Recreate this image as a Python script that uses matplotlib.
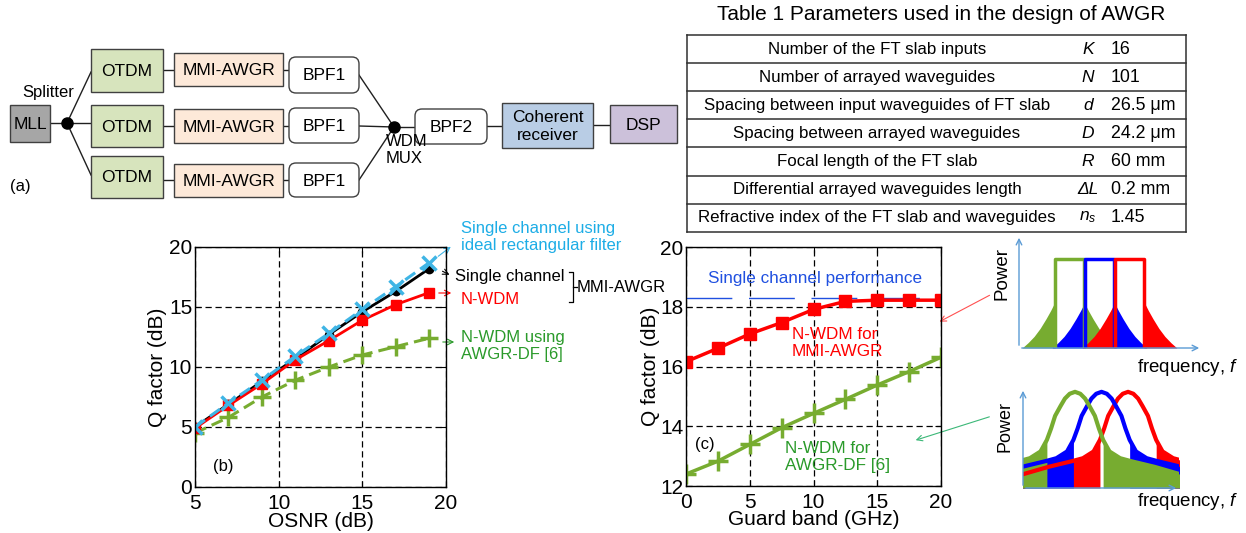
import matplotlib
matplotlib.use("Agg")
from matplotlib import pyplot as plt
from matplotlib.patches import Rectangle, FancyBboxPatch
import numpy as np

plt.rcParams['font.family'] = ['Liberation Sans', 'DejaVu Sans']
plt.rcParams['mathtext.fontset'] = 'custom'
plt.rcParams['mathtext.rm'] = 'Liberation Sans'
plt.rcParams['mathtext.it'] = 'Liberation Sans:italic'

# ---- data (b): Q factor vs OSNR
osnr = [5, 7, 9, 11, 13, 15, 17, 19]
q_single = [5.0, 6.9, 8.8, 10.7, 12.7, 14.6, 16.3, 18.2]
q_ideal = [5.0, 7.0, 8.9, 10.9, 12.8, 14.8, 16.7, 18.7]
q_nwdm = [4.9, 6.8, 8.6, 10.6, 12.2, 13.9, 15.2, 16.2]
q_awgrdf = [4.5, 5.8, 7.5, 8.9, 10.0, 11.0, 11.7, 12.4]

# ---- data (c): Q factor vs guard band
guard = [0, 2.5, 5, 7.5, 10, 12.5, 15, 17.5, 20]
q_gb_mmi = [16.16, 16.61, 17.09, 17.47, 17.91, 18.18, 18.22, 18.22, 18.22]
q_gb_df = [12.40, 12.83, 13.39, 13.95, 14.43, 14.90, 15.38, 15.83, 16.31]
q_single_ref = 18.29

# ---- table 1
params = ["Number of the FT slab inputs", "Number of arrayed waveguides",
          "Spacing between input waveguides of FT slab", "Spacing between arrayed waveguides",
          "Focal length of the FT slab", "Differential arrayed waveguides length",
          "Refractive index of the FT slab and waveguides"]
symbols = ["K", "N", "d", "D", "R", "ΔL", r"$n_s$"]
values = ["16", "101", "26.5 μm", "24.2 μm", "60 mm", "0.2 mm", "1.45"]

# ---- sketch spectra (insets)
chan_pos = [0, 1, 2]
chan_col = ['#77AC30', '#0000FF', '#FF0000']
rect_hw = 0.48
tail_dx = [0, 0.15, 0.3, 0.5, 0.7, 0.9, 1.1]
tail_lv = [0.52, 0.42, 0.33, 0.22, 0.13, 0.06, 0.0]
bell_dx = [-4, -3, -2.1, -1.7, -1.3, -1.06, -0.9, -0.75, -0.55, -0.38, -0.2, 0,
           0.2, 0.38, 0.55, 0.75, 0.9, 1.06, 1.3, 1.7, 2.1, 3, 4]
bell_lv = [0.14, 0.22, 0.28, 0.31, 0.38, 0.5, 0.62, 0.75, 0.85, 0.93, 0.98, 1,
           0.98, 0.93, 0.85, 0.75, 0.62, 0.5, 0.38, 0.31, 0.28, 0.22, 0.14]

W, H = 1246, 533
fig = plt.figure(figsize=(W / 100, H / 100), dpi=100)


def px_axes(x0, y0, x1, y1):
    return fig.add_axes([x0 / W, 1 - y1 / H, (x1 - x0) / W, (y1 - y0) / H])


# overlay in pixel coordinates
ov = fig.add_axes([0, 0, 1, 1])
ov.set_xlim(0, W)
ov.set_ylim(H, 0)
ov.axis('off')

# ---- (a) block diagram
boxes = [  # x0, y0, x1, y1, label, face, rounded
    (10, 105, 50, 142, "MLL", '#A6A6A6', False),
    (91, 49, 163, 92, "OTDM", '#D7E4BD', False),
    (91, 105, 163, 147, "OTDM", '#D7E4BD', False),
    (91, 156, 163, 198, "OTDM", '#D7E4BD', False),
    (174, 53, 283, 86, "MMI-AWGR", '#FDE9D9', False),
    (174, 109, 283, 143, "MMI-AWGR", '#FDE9D9', False),
    (174, 164, 283, 197, "MMI-AWGR", '#FDE9D9', False),
    (289, 57, 359, 93, "BPF1", 'white', True),
    (289, 108, 359, 143, "BPF1", 'white', True),
    (289, 163, 359, 197, "BPF1", 'white', True),
    (415, 109, 487, 144, "BPF2", 'white', True),
    (502, 103, 593, 148, "Coherent\nreceiver", '#B9CDE5', False),
    (610, 105, 677, 143, "DSP", '#CCC1DA', False),
]
for x0, y0, x1, y1, lab, fc, rnd in boxes:
    if rnd:
        p = FancyBboxPatch((x0, y0), x1 - x0, y1 - y0, boxstyle="round,pad=0,rounding_size=7",
                           fc=fc, ec='#404040', lw=1)
    else:
        p = Rectangle((x0, y0), x1 - x0, y1 - y0, fc=fc, ec='#404040', lw=1)
    ov.add_patch(p)
    ov.text((x0 + x1) / 2, (y0 + y1) / 2 + 1, lab, ha='center', va='center', fontsize=12.5,
            linespacing=1.25)

conn = [((50, 123), (67, 123)), ((67, 123), (91, 72)), ((67, 123), (91, 123)), ((67, 123), (91, 175)),
        ((163, 70), (174, 70)), ((163, 126), (174, 126)), ((163, 180), (174, 180)),
        ((283, 70), (289, 70)), ((283, 126), (289, 126)), ((283, 180), (289, 180)),
        ((359, 75), (394, 127)), ((359, 126), (394, 127)), ((359, 180), (394, 127)),
        ((394, 127), (415, 127)), ((487, 126), (502, 126)), ((593, 125), (610, 125))]
for (xa, ya), (xb, yb) in conn:
    ov.plot([xa, xb], [ya, yb], color='#202020', lw=1, zorder=0)
ov.plot([67, 394], [123, 127], 'o', color='black', ms=8, ls='none')
ov.text(48, 93, "Splitter", ha='center', va='center', fontsize=12)
ov.text(386, 150, "WDM\nMUX", ha='left', va='center', fontsize=12, linespacing=1.1)
ov.text(10, 187, "(a)", ha='left', va='center', fontsize=12)

# ---- table 1
ov.text(941, 15, "Table 1 Parameters used in the design of AWGR", ha='center', va='center', fontsize=15)
t_top, row_h = 35, 28.1
for i in range(len(params) + 1):
    ov.plot([687, 1186], [t_top + i * row_h] * 2, color='#303030', lw=1.1)
ov.plot([687, 687], [t_top, t_top + 7 * row_h], color='#303030', lw=1.1)
ov.plot([1186, 1186], [t_top, t_top + 7 * row_h], color='#303030', lw=1.1)
for i, (pname, sym, val) in enumerate(zip(params, symbols, values)):
    yc = t_top + (i + 0.5) * row_h
    ov.text(877, yc, pname, ha='center', va='center', fontsize=12.2)
    ov.text(1088, yc, sym, ha='center', va='center', fontsize=12.5, style='italic')
    ov.text(1111, yc, val, ha='left', va='center', fontsize=12.8)

# ---- (b) Q factor vs OSNR
axb = px_axes(195, 247, 446, 487)
axb.set_facecolor('none')
axb.plot(osnr, q_awgrdf, color='#77AC30', ls='--', lw=2.2, marker='+', ms=13, mew=2.5, dashes=(4, 2))
axb.plot(osnr, q_single, color='black', lw=2, marker='o', ms=6)
axb.plot(osnr, q_nwdm, color='#FF0000', lw=2, marker='s', ms=7)
axb.plot(osnr, q_ideal, color='#3FB5E5', ls='--', lw=2.2, marker='x', ms=10, mew=2.5, dashes=(4, 2))
axb.set_xlim(5, 20)
axb.set_ylim(0, 20)
axb.set_xticks([5, 10, 15, 20])
axb.set_yticks([0, 5, 10, 15, 20])
axb.text(6.7, 1.7, "(b)", ha='center', va='center', fontsize=12)
axb.set_xlabel("OSNR (dB)", fontsize=15, va='center')
axb.set_ylabel("Q factor (dB)", fontsize=15, va='center')
axb.xaxis.set_label_coords(0.5, -0.145)
axb.yaxis.set_label_coords(-0.148, 0.5)

# ---- (c) Q factor vs guard band
axc = px_axes(686, 247, 941, 486)
axc.set_facecolor('none')
axc.axhline(q_single_ref, color='#2050E0', lw=1, dashes=(33, 12))
axc.plot(guard, q_gb_mmi, color='#FF0000', lw=2.5, marker='s', ms=8)
axc.plot(guard, q_gb_df, color='#77AC30', lw=2.5, marker='+', ms=14, mew=2.5)
axc.set_xlim(0, 20)
axc.set_ylim(12, 20)
axc.set_xticks([0, 5, 10, 15, 20])
axc.set_yticks([12, 14, 16, 18, 20])
axc.text(1.5, 13.4, "(c)", ha='center', va='center', fontsize=12)
axc.text(10.1, 18.96, "Single channel performance", color='#2050E0', ha='center', va='center', fontsize=12.3)
axc.text(8.3, 16.8, "N-WDM for\nMMI-AWGR", color='#FF0000', ha='left', va='center', fontsize=12.3,
         linespacing=1.15)
axc.text(7.8, 12.97, "N-WDM for\nAWGR-DF [6]", color='#2A9A2A', ha='left', va='center', fontsize=12.3,
         linespacing=1.15)
axc.set_xlabel("Guard band (GHz)", fontsize=15, va='center')
axc.set_ylabel("Q factor (dB)", fontsize=15, va='center')
axc.xaxis.set_label_coords(0.5, -0.142)
axc.yaxis.set_label_coords(-0.141, 0.5)

for ax in (axb, axc):
    ax.grid(True, color='black', ls=(0, (5, 3)), lw=0.9)
    ax.tick_params(direction='in', length=4, labelsize=15, top=True, right=True)
    ax.tick_params(axis='y', pad=2)
    ax.tick_params(axis='x', pad=5)
    for s in ax.spines.values():
        s.set_linewidth(1)

# ---- (b) annotations
ov.annotate("", xy=(453, 245), xytext=(436, 258), arrowprops=dict(arrowstyle='->', color='#3FB5E5', lw=0.8))
ov.annotate("", xy=(452, 276), xytext=(440, 270), arrowprops=dict(arrowstyle='->', color='black', lw=0.8))
ov.annotate("", xy=(454, 293), xytext=(436, 293), arrowprops=dict(arrowstyle='->', color='#FF0000', lw=0.8))
ov.annotate("", xy=(457, 342), xytext=(440, 342), arrowprops=dict(arrowstyle='->', color='#2A9A2A', lw=0.8))
ov.text(461, 237, "Single channel using\nideal rectangular filter", color='#1DADE6', ha='left', va='center',
        fontsize=12, linespacing=1.1)
ov.text(455, 277, "Single channel", color='black', ha='left', va='center', fontsize=12)
ov.text(461, 299, "N-WDM", color='#FF0000', ha='left', va='center', fontsize=12)
ov.text(461, 346, "N-WDM using\nAWGR-DF [6]", color='#2A9A2A', ha='left', va='center', fontsize=12,
        linespacing=1.1)
ov.plot([569, 573, 573, 569], [272, 272, 302, 302], color='black', lw=0.9)
ov.plot([573, 577], [287, 287], color='black', lw=0.9)
ov.text(577, 287, "MMI-AWGR", color='black', ha='left', va='center', fontsize=12)

# arrows from spectra to (c)
ov.annotate("", xy=(937, 323), xytext=(992, 294), arrowprops=dict(arrowstyle='->', color='#FF5050', lw=0.8))
ov.annotate("", xy=(913, 441), xytext=(992, 416), arrowprops=dict(arrowstyle='->', color='#3CB878', lw=0.8))

# ---- inset 1: rectangular spectra
ax1 = px_axes(1019, 235, 1202, 348)
ax1.set_xlim(-1.683, 4.417)
ax1.set_ylim(0, 1.27)
ax1.axis('off')
tdx = np.array(tail_dx)
for c, col in zip(chan_pos, chan_col):
    le, re = c - rect_hw, c + rect_hw
    ax1.fill_between(le - tdx, 0, tail_lv, color=col, lw=0)
    ax1.fill_between(re + tdx, 0, tail_lv, color=col, lw=0)
for c, col in zip(chan_pos, chan_col):
    le, re = c - rect_hw, c + rect_hw
    ax1.plot([le, le, re, re], [0, 1, 1, 0], color=col, lw=2.5, solid_joinstyle='round')
arr = dict(arrowstyle='->', color='#5B9BD5', lw=1)
ax1.annotate("", xy=(4.417, 0), xytext=(-1.683, 0), arrowprops=arr, annotation_clip=False)
ax1.annotate("", xy=(-1.683, 1.27), xytext=(-1.683, 0), arrowprops=arr, annotation_clip=False)
ov.text(1002, 273, "Power", rotation=90, ha='center', va='center', fontsize=13.5)
ov.text(1137, 368, r"frequency, $f$", ha='left', va='center', fontsize=13.5)

# ---- inset 2: bell spectra
ax2 = px_axes(1023, 388, 1179, 488)
ax2.set_xlim(-1.96, 3.92)
ax2.set_ylim(0, 1.04)
ax2.axis('off')
bdx = np.array(bell_dx)
blv = np.array(bell_lv)
for c, col in list(zip(chan_pos, chan_col))[::-1]:
    outer = np.abs(bdx) >= 1.06
    left = outer & (bdx < 0)
    right = outer & (bdx > 0)
    ax2.fill_between(c + bdx[left], 0, blv[left], color=col, lw=0)
    ax2.fill_between(c + bdx[right], 0, blv[right], color=col, lw=0)
for c, col in list(zip(chan_pos, chan_col))[::-1]:
    ax2.plot(c + bdx, blv, color=col, lw=3)
ax2.annotate("", xy=(3.92, 0), xytext=(-1.96, 0), arrowprops=arr, annotation_clip=False)
ax2.annotate("", xy=(-1.96, 1.04), xytext=(-1.96, 0), arrowprops=arr, annotation_clip=False)
ov.text(1005, 427, "Power", rotation=90, ha='center', va='center', fontsize=13)
ov.text(1137, 502, r"frequency, $f$", ha='left', va='center', fontsize=13.5)

fig.savefig("out.png", dpi=100)
